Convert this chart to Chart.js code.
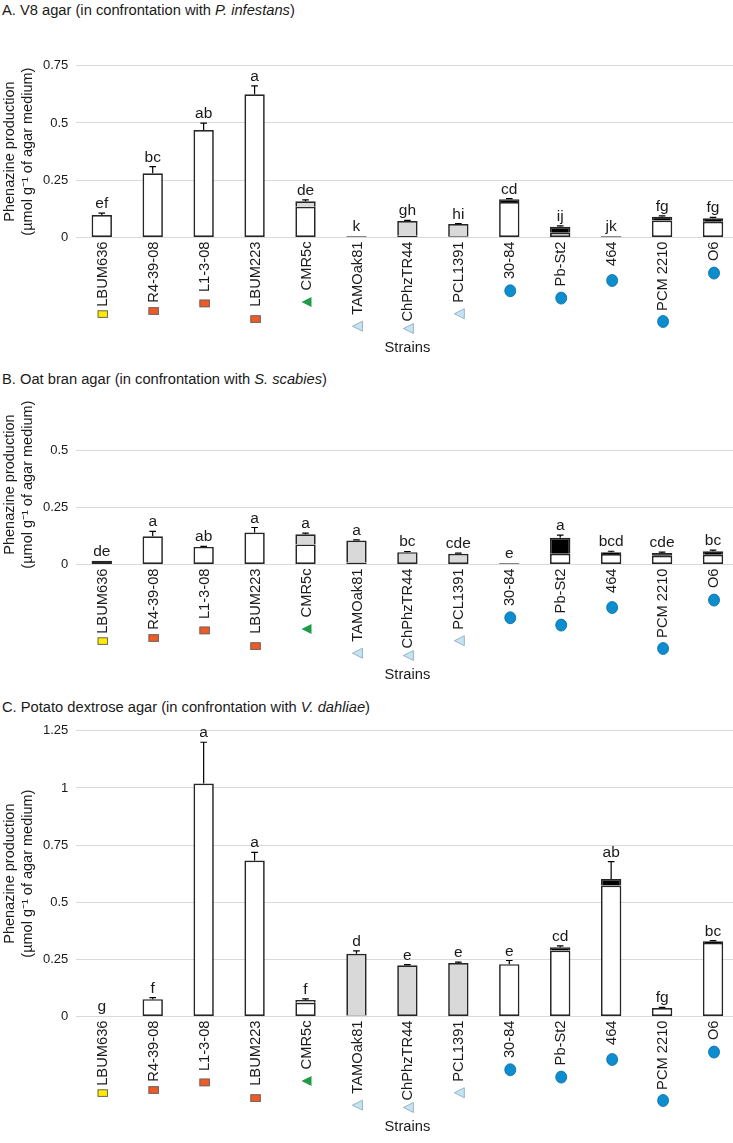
<!DOCTYPE html>
<html><head><meta charset="utf-8">
<script src="https://cdn.jsdelivr.net/npm/chart.js@4.4.1/dist/chart.umd.min.js"></script>
<style>
html,body{margin:0;padding:0;background:#fff;overflow:hidden;width:733px;height:1143px;position:relative;}
.wrap{position:absolute;left:0;width:740px;}
.ttl{position:absolute;left:2px;font-family:"Liberation Sans",Arial,sans-serif;font-size:14.7px;color:#1a1a1a;white-space:nowrap;line-height:17px;}
</style></head><body>
<div class="ttl" style="top:1.5px">A. V8 agar (in confrontation with <i>P. infestans</i>)</div>
<div class="wrap" style="top:30px;height:332px"><canvas id="cA" width="740" height="332"></canvas></div>
<div class="ttl" style="top:370.5px">B. Oat bran agar (in confrontation with <i>S. scabies</i>)</div>
<div class="wrap" style="top:380px;height:309px"><canvas id="cB" width="740" height="309"></canvas></div>
<div class="ttl" style="top:698.5px">C. Potato dextrose agar (in confrontation with <i>V. dahliae</i>)</div>
<div class="wrap" style="top:715px;height:426px"><canvas id="cC" width="740" height="426"></canvas></div>
<script>
// ---------- data ----------
const strains = ['LBUM636','R4-39-08','L1-3-08','LBUM223','CMR5c','TAMOak81','ChPhzTR44','PCL1391','30-84','Pb-St2','464','PCM 2210','O6'];
const strainGroup = ['sqY','sqO','sqO','sqO','triG','triB','triB','triB','dot','dot','dot','dot','dot'];

// A. V8 agar
const v8White  = [0.098,0.280,0.469,0.625,0.134,0,    0.008,0.006,0.155,0.021,0.001,0.074,0.069];
const v8Grey   = [0,    0,    0,    0,    0.024,0.006,0.064,0.053,0,    0,    0,    0,    0];
const v8Black  = [0,    0,    0,    0,    0,    0,    0,    0,    0.012,0.026,0.005,0.017,0.015];
const v8Err    = [0.008,0.029,0.030,0.037,0.006,0,    0.003,0.002,0.003,0.004,0,    0.003,0.004];
const v8Letters= ['ef','bc','ab','a','de','k','gh','hi','cd','ij','jk','fg','fg'];
const v8Ticks  = [0,0.25,0.5,0.75];

// B. Oat bran agar
const oatWhite  = [0.016,0.124,0.077,0.140,0.088,0.009,0,    0,    0,    0.047,0.046,0.038,0.043];
const oatGrey   = [0,    0,    0,    0,    0.044,0.096,0.054,0.047,0.005,0,    0,    0,    0];
const oatBlack  = [0,    0,    0,    0,    0,    0,    0,    0,    0,    0.070,0.008,0.012,0.015];
const oatErr    = [0,    0.021,0.002,0.022,0.005,0.003,0.003,0.003,0,    0.012,0.004,0.004,0.005];
const oatLetters= ['de','a','ab','a','a','a','bc','cde','e','a','bcd','cde','bc'];
const oatTicks  = [0,0.25,0.5];

// C. Potato dextrose agar
const pdaWhite  = [0.002,0.076,1.019,0.682,0.060,0.004,0,    0,    0.229,0.289,0.573,0.037,0.322];
const pdaGrey   = [0,    0,    0,    0,    0.012,0.270,0.224,0.234,0,    0,    0,    0,    0];
const pdaBlack  = [0,    0,    0,    0,    0,    0,    0,    0,    0,    0.014,0.029,0,    0.007];
const pdaErr    = [0,    0.007,0.181,0.036,0.005,0.013,0.003,0.004,0.016,0.006,0.076,0.003,0.003];
const pdaLetters= ['g','f','a','a','f','d','e','e','e','cd','ab','fg','bc'];
const pdaTicks  = [0,0.25,0.5,0.75,1,1.25];

// ---------- styles ----------
const FAM = '"Liberation Sans", Arial, sans-serif';
const TICK_X = 14.7, TICK_Y = 13, LETTER = 15.5;
const markerGap = [3.5,4.5,7.5,8.5,6.5,6.5,2,6,5.7,5.7,8.5,4.6,6];
const TXT = '#1a1a1a';

function drawMarker(ctx, type, cx, y0){
  ctx.save();
  ctx.lineWidth = 1;
  if (type === 'sqY' || type === 'sqO'){
    ctx.fillStyle = type === 'sqY' ? '#FFEB00' : '#F15A24';
    ctx.strokeStyle = '#6a6a6a';
    ctx.fillRect(cx-5.2, y0, 10.4, 7.6);
    ctx.strokeRect(cx-5.2+0.5, y0+0.5, 9.4, 6.6);
  } else if (type === 'triG' || type === 'triB'){
    ctx.beginPath();
    ctx.moveTo(cx-5, y0+5);
    ctx.lineTo(cx+5, y0);
    ctx.lineTo(cx+5, y0+10);
    ctx.closePath();
    ctx.fillStyle = type === 'triG' ? '#1F9B48' : '#C3E4F5';
    ctx.fill();
    if (type === 'triB'){ ctx.strokeStyle = '#8aa3b2'; ctx.lineWidth = 0.8; ctx.stroke(); }
  } else {
    ctx.beginPath();
    ctx.ellipse(cx, y0+6, 5.5, 6, 0, 0, Math.PI*2);
    ctx.fillStyle = '#0C8DCF';
    ctx.fill();
    ctx.strokeStyle = '#0a6a9c'; ctx.lineWidth = 0.8; ctx.stroke();
  }
  ctx.restore();
}

const markerPlugin = {
  id:'markers',
  afterDraw(chart){
    const xs = chart.scales.x, ctx = chart.ctx;
    ctx.save();
    ctx.font = TICK_X + 'px ' + FAM;
    strains.forEach((s,i)=>{
      const w = ctx.measureText(s).width;
      const cx = xs.getPixelForValue(i) + 1;
      const y0 = xs.top + xs.options.ticks.padding + w + markerGap[i];
      drawMarker(ctx, strainGroup[i], cx, y0);
    });
    ctx.restore();
  }
};

function errPlugin(white, grey, black, err, letters){
  return {
    id:'errLetters',
    afterDatasetsDraw(chart){
      const xs = chart.scales.x, ys = chart.scales.y, ctx = chart.ctx;
      ctx.save();
      ctx.strokeStyle = '#000'; ctx.lineWidth = 1.2;
      ctx.fillStyle = TXT; ctx.font = LETTER + 'px ' + FAM;
      ctx.textAlign = 'center'; ctx.textBaseline = 'alphabetic';
      strains.forEach((s,i)=>{
        const tot = white[i] + grey[i] + black[i];
        const x = xs.getPixelForValue(i);
        const yT = ys.getPixelForValue(tot);
        const yE = ys.getPixelForValue(tot + err[i]);
        if (err[i] > 0){
          ctx.beginPath();
          ctx.moveTo(x, yT); ctx.lineTo(x, yE);
          ctx.moveTo(x-3.3, yE); ctx.lineTo(x+3.3, yE);
          ctx.stroke();
        }
        ctx.fillText(letters[i], x, yE - 5);
      });
      ctx.restore();
    }
  };
}

function makeChart(id, white, grey, black, err, letters, ticks, max, padTop){
  const series = [white, grey, black];
  const fills = ['#ffffff', '#d9d9d9', '#000000'];
  const names = ['white', 'grey', 'black'];
  const datasets = series.map((arr, k) => ({
    label: names[k],
    data: arr.map(v => v > 0 ? v : null),
    backgroundColor: fills[k],
    borderColor: '#262626',
    borderSkipped: false,
    inflateAmount: 0,
    borderWidth: (c) => {
      const i = c.dataIndex;
      const low = series.findIndex(a => a[i] > 0);
      return {top:1.7, left:1.7, right:1.7, bottom: c.datasetIndex === low ? 1.7 : 0};
    },
    barPercentage: 0.4,
    categoryPercentage: 1,
    stack: 's'
  }));
  new Chart(document.getElementById(id), {
    type: 'bar',
    data: { labels: strains, datasets },
    options: {
      responsive: false,
      animation: false,
      events: [],
      layout: { padding: { top: padTop, left: 0, right: 1.5, bottom: 0 } },
      plugins: { legend: { display: false }, tooltip: { enabled: false } },
      scales: {
        x: {
          stacked: true,
          grid: { display: false, drawTicks: false },
          border: { display: false },
          ticks: { autoSkip: false, minRotation: 90, maxRotation: 90, padding: 4, labelOffset: 1,
                   font: { family: FAM, size: TICK_X }, color: TXT },
          title: { display: true, text: 'Strains', font: { family: FAM, size: TICK_X }, color: TXT,
                   padding: { top: 0, bottom: 5 } },
          afterFit: s => { s.height = 124.5; }
        },
        y: {
          stacked: true,
          min: 0, max: max,
          afterBuildTicks: s => { s.ticks = ticks.map(v => ({ value: v })); },
          ticks: { padding: 8, font: { family: FAM, size: TICK_Y }, color: TXT, callback: v => String(v) },
          grid: { color: '#d9d9d9', drawTicks: false, lineWidth: 1 },
          border: { display: false },
          title: { display: true, text: ['Phenazine production', '(µmol g\u207B\u00B9 of agar medium)'],
                   font: { family: FAM, size: 14.5, lineHeight: 1.24 }, color: TXT,
                   padding: { top: 1, bottom: 0 } },
          afterFit: s => { s.width = 76.3; }
        }
      }
    },
    plugins: [errPlugin(white, grey, black, err, letters), markerPlugin]
  });
}

makeChart('cA', v8White, v8Grey, v8Black, v8Err, v8Letters, v8Ticks, 0.75, 35.7);
makeChart('cB', oatWhite, oatGrey, oatBlack, oatErr, oatLetters, oatTicks, 0.7, 24.7);
makeChart('cC', pdaWhite, pdaGrey, pdaBlack, pdaErr, pdaLetters, pdaTicks, 1.25, 13.5);
</script>
</body></html>
